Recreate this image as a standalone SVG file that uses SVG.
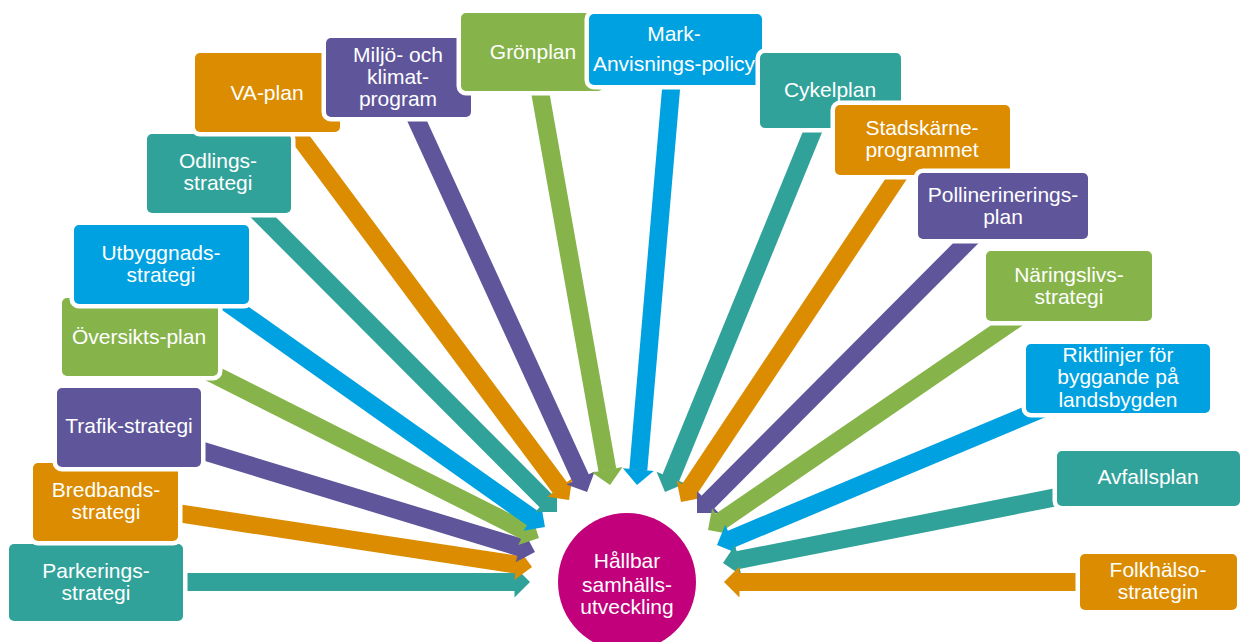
<svg xmlns="http://www.w3.org/2000/svg" width="1243" height="642" viewBox="0 0 1243 642">
<style>
.box{stroke:#FFFFFF;stroke-width:9;paint-order:stroke fill}
.or{fill:#DB8C00}.pu{fill:#5E559A}.gr{fill:#86B44A}.bl{fill:#00A1E0}.te{fill:#31A29A}
.t{font-family:"Liberation Sans",Arial,sans-serif;font-size:21px;fill:#FFFFFF;text-anchor:middle}
.a{stroke-width:18;stroke-linecap:butt;fill:none}
.aor{stroke:#DB8C00;marker-end:url(#hOr)}.apu{stroke:#5E559A;marker-end:url(#hPu)}.agr{stroke:#86B44A;marker-end:url(#hGr)}.abl{stroke:#00A1E0;marker-end:url(#hBl)}.ate{stroke:#31A29A;marker-end:url(#hTe)}
</style>
<defs>
<marker id="hOr" markerUnits="userSpaceOnUse" markerWidth="17" markerHeight="32" viewBox="-1 -16 17 32" refX="0" refY="0" orient="auto"><path d="M-0.5,-15.5 L15,0 L-0.5,15.5 Z" fill="#DB8C00"/></marker>
<marker id="hPu" markerUnits="userSpaceOnUse" markerWidth="17" markerHeight="32" viewBox="-1 -16 17 32" refX="0" refY="0" orient="auto"><path d="M-0.5,-15.5 L15,0 L-0.5,15.5 Z" fill="#5E559A"/></marker>
<marker id="hGr" markerUnits="userSpaceOnUse" markerWidth="17" markerHeight="32" viewBox="-1 -16 17 32" refX="0" refY="0" orient="auto"><path d="M-0.5,-15.5 L15,0 L-0.5,15.5 Z" fill="#86B44A"/></marker>
<marker id="hBl" markerUnits="userSpaceOnUse" markerWidth="17" markerHeight="32" viewBox="-1 -16 17 32" refX="0" refY="0" orient="auto"><path d="M-0.5,-15.5 L15,0 L-0.5,15.5 Z" fill="#00A1E0"/></marker>
<marker id="hTe" markerUnits="userSpaceOnUse" markerWidth="17" markerHeight="32" viewBox="-1 -16 17 32" refX="0" refY="0" orient="auto"><path d="M-0.5,-15.5 L15,0 L-0.5,15.5 Z" fill="#31A29A"/></marker>
</defs>
<rect width="1243" height="642" fill="#FFFFFF"/>
<g id="connectors">
<line class="a ate" x1="163" y1="582" x2="515" y2="582"/>
<line class="a aor" x1="158.3" y1="510.2" x2="517.2" y2="564.7"/>
<line class="a apu" x1="182.1" y1="444.7" x2="520.6" y2="547.6"/>
<line class="a agr" x1="192.7" y1="363.8" x2="525.6" y2="531.3"/>
<line class="a abl" x1="211.6" y1="291.6" x2="532.7" y2="518.4"/>
<line class="a ate" x1="246.4" y1="200.3" x2="546.4" y2="501.4"/>
<line class="a aor" x1="285.1" y1="117.9" x2="560.1" y2="488.0"/>
<line class="a apu" x1="407.6" y1="100.3" x2="580.8" y2="478.4"/>
<line class="a agr" x1="536.6" y1="72.4" x2="607.4" y2="470.2"/>
<line class="a abl" x1="673.1" y1="65.1" x2="638.3" y2="470.1"/>
<line class="a ate" x1="821.5" y1="109.9" x2="670.7" y2="478.1"/>
<line class="a aor" x1="907.9" y1="161.2" x2="689.3" y2="489.5"/>
<line class="a apu" x1="981.6" y1="227.3" x2="707.6" y2="502.4"/>
<line class="a agr" x1="1020.6" y1="315.9" x2="720.4" y2="521.5"/>
<line class="a abl" x1="1053.1" y1="404.3" x2="730.8" y2="539.2"/>
<line class="a ate" x1="1076.5" y1="493.2" x2="737.7" y2="560.1"/>
<line class="a aor" x1="1100" y1="582" x2="739" y2="582"/>
</g>
<g id="parkering"><rect class="box te" x="9" y="544" width="174" height="77" rx="5"/><text class="t" x="96" y="578">Parkerings-</text><text class="t" x="96" y="600">strategi</text></g>
<g id="bredband"><rect class="box or" x="33" y="463" width="145" height="78" rx="5"/><text class="t" x="106" y="497">Bredbands-</text><text class="t" x="106" y="519">strategi</text></g>
<g id="trafik"><rect class="box pu" x="57" y="388" width="144" height="79" rx="5"/><text class="t" x="129" y="433">Trafik-strategi</text></g>
<g id="oversikt"><rect class="box gr" x="62" y="298" width="156" height="78" rx="5"/><text class="t" x="139" y="344">Översikts-plan</text></g>
<g id="utbyggnad"><rect class="box bl" x="74" y="225" width="175" height="79" rx="5"/><text class="t" x="161" y="260">Utbyggnads-</text><text class="t" x="161" y="282">strategi</text></g>
<g id="odling"><rect class="box te" x="147" y="134" width="144" height="79" rx="5"/><text class="t" x="218" y="168">Odlings-</text><text class="t" x="218" y="190">strategi</text></g>
<g id="vaplan"><rect class="box or" x="195" y="53" width="145" height="79" rx="5"/><text class="t" x="267" y="100">VA-plan</text></g>
<g id="miljo"><rect class="box pu" x="326" y="38" width="145" height="79" rx="5"/><text class="t" x="398" y="62">Miljö- och</text><text class="t" x="398" y="84">klimat-</text><text class="t" x="398" y="106">program</text></g>
<g id="gronplan"><rect class="box gr" x="461" y="13" width="142" height="78" rx="5"/><text class="t" x="533" y="59">Grönplan</text></g>
<g id="mark"><rect class="box bl" x="589" y="14" width="173" height="71" rx="5"/><text class="t" x="674" y="41">Mark-</text><text class="t" x="674" y="71">Anvisnings-policy</text></g>
<g id="cykel"><rect class="box te" x="760" y="53" width="141" height="75" rx="5"/><text class="t" x="830" y="97">Cykelplan</text></g>
<g id="stadskarne"><rect class="box or" x="835" y="105" width="175" height="70" rx="5"/><text class="t" x="922" y="135">Stadskärne-</text><text class="t" x="922" y="157">programmet</text></g>
<g id="pollin"><rect class="box pu" x="918" y="173" width="170" height="66" rx="5"/><text class="t" x="1003" y="202">Pollinerinerings-</text><text class="t" x="1003" y="224">plan</text></g>
<g id="naringsliv"><rect class="box gr" x="986" y="251" width="166" height="70" rx="5"/><text class="t" x="1069" y="282">Näringslivs-</text><text class="t" x="1069" y="304">strategi</text></g>
<g id="riktlinjer"><rect class="box bl" x="1026" y="344" width="184" height="69" rx="5"/><text class="t" x="1118" y="362">Riktlinjer för</text><text class="t" x="1118" y="384">byggande på</text><text class="t" x="1118" y="407">landsbygden</text></g>
<g id="avfall"><rect class="box te" x="1057" y="451" width="183" height="55" rx="5"/><text class="t" x="1148" y="484">Avfallsplan</text></g>
<g id="folkhalso"><rect class="box or" x="1080" y="554" width="157" height="56" rx="5"/><text class="t" x="1158" y="577">Folkhälso-</text><text class="t" x="1158" y="599">strategin</text></g>
<g id="hallbar"><circle cx="627" cy="582" r="69" fill="#C2007B"/><text class="t" x="627" y="568">Hållbar</text><text class="t" x="627" y="592">samhälls-</text><text class="t" x="627" y="614">utveckling</text></g>
</svg>
